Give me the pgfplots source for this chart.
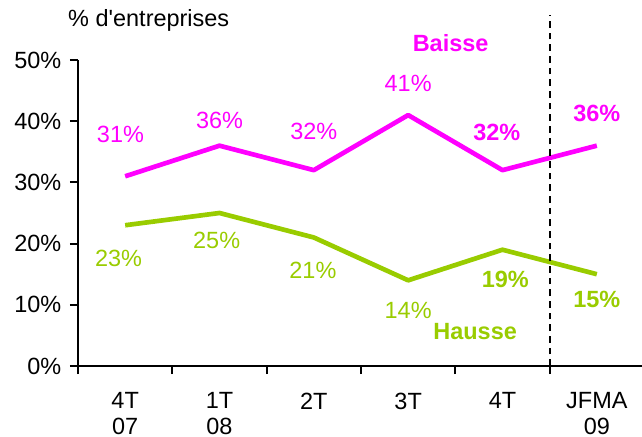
\documentclass[border=0pt]{standalone}
\usepackage{pgfplots}
\pgfplotsset{compat=1.18}
\usepackage{fontspec}
\setmainfont{Liberation Sans}
\definecolor{baisse}{RGB}{255,0,255}
\definecolor{hausse}{RGB}{153,204,0}
\begin{document}
\begin{tikzpicture}
\begin{axis}[
 at={(58.5pt,52.5pt)}, anchor=south west,
 scale only axis, width=424.5pt, height=229.5pt,
 xmin=-0.5, xmax=5.5, ymin=0, ymax=50,
 axis x line*=bottom, axis y line*=left,
 axis line style={line width=1.5pt, -},
 xtick={-0.5,0.5,...,5.5},
 x tick label as interval,
 xticklabels={{4T\\07},{1T\\08},2T,3T,4T,{JFMA\\09}},
 xticklabel style={align=center, yshift=-10.5pt},
 ytick={0,10,...,50},
 yticklabel={\pgfmathprintnumber{\tick}\%},
 yticklabel style={xshift=-3pt},
 tick align=outside, major tick length=6pt,
 tick style={line width=1.5pt, black},
 font=\fontsize{17.6}{19}\selectfont,
 /pgf/number format/assume math mode=true,
 clip=false,
]
\addplot[baisse, line width=3.5pt, line join=round] coordinates {(0,31)(1,36)(2,32)(3,41)(4,32)(5,36)};
\addplot[hausse, line width=3.5pt, line join=round] coordinates {(0,23)(1,25)(2,21)(3,14)(4,19)(5,15)};
\addplot[black, line width=1.5pt, dash pattern=on 5pt off 3.75pt] coordinates {(4.5,0)(4.5,57.35)};
\node[baisse] at (axis cs:-0.05,37.9) {31\%};
\node[baisse] at (axis cs:1.0,40.2) {36\%};
\node[baisse] at (axis cs:2.0,38.4) {32\%};
\node[baisse] at (axis cs:3.0,46.1) {41\%};
\node[baisse, font=\fontsize{17.6}{19}\selectfont\bfseries] at (axis cs:3.94,38.2) {32\%};
\node[baisse, font=\fontsize{17.6}{19}\selectfont\bfseries] at (axis cs:5.0,41.3) {36\%};
\node[baisse, font=\fontsize{17.6}{19}\selectfont\bfseries] at (axis cs:3.45,52.8) {Baisse};
\node[hausse] at (axis cs:-0.07,17.5) {23\%};
\node[hausse] at (axis cs:0.97,20.6) {25\%};
\node[hausse] at (axis cs:1.99,15.7) {21\%};
\node[hausse] at (axis cs:3.0,9.0) {14\%};
\node[hausse, font=\fontsize{17.6}{19}\selectfont\bfseries] at (axis cs:4.03,14.1) {19\%};
\node[hausse, font=\fontsize{17.6}{19}\selectfont\bfseries] at (axis cs:5.0,10.8) {15\%};
\node[hausse, font=\fontsize{17.6}{19}\selectfont\bfseries] at (axis cs:3.71,5.7) {Hausse};
\node[black, anchor=base] at (axis cs:0.25,55.4) {\% d\textquotesingle entreprises};
\end{axis}
\pgfresetboundingbox
\path[use as bounding box] (0,0) rectangle (481.5pt,327pt);
\end{tikzpicture}
\end{document}
